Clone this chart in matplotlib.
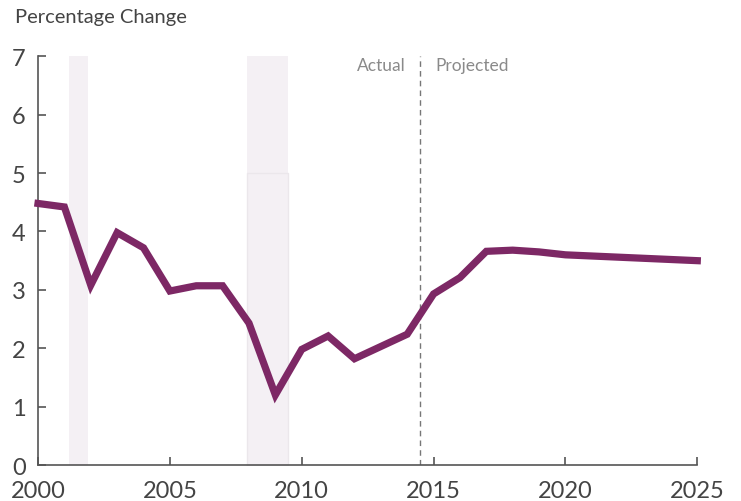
import numpy as np
import matplotlib
matplotlib.use('Agg')
import matplotlib.pyplot as plt

# data
years = list(range(2000, 2026))
pct_change = [4.48, 4.42, 3.08, 3.98, 3.72, 2.98, 3.07, 3.07, 2.43, 1.20,
              1.98, 2.21, 1.82, 2.03, 2.24, 2.93, 3.21, 3.66, 3.68, 3.65,
              3.60, 3.58, 3.56, 3.54, 3.52, 3.50]
recessions = [(2001.17, 2001.88), (2007.92, 2009.47)]
split_year = 2014.5
yticks = [0, 1, 2, 3, 4, 5, 6, 7]
xticks = [2000, 2005, 2010, 2015, 2020, 2025]

plt.rcParams['font.family'] = ['Lato', 'DejaVu Sans']

fig = plt.figure(figsize=(7.41, 5.02), dpi=100)
ax = fig.add_axes([0.0513, 0.0717, 0.8897, 0.8141])

# recession shading
for start, end in recessions:
    ax.axvspan(start, end, color='#f4f0f4', lw=0, zorder=0)
ax.fill_between([recessions[1][0], recessions[1][1]], 0, 5,
                facecolor='#f4f0f4', edgecolor='#ebe7eb', lw=1, zorder=0.5)

ax.axvline(split_year, color='#777777', lw=1, ls=(0, (4, 3)), zorder=1)
ax.text(split_year - 0.55, 6.85, 'Actual', ha='right', va='center',
        fontsize=12.5, color='#8a8a8a')
ax.text(split_year + 0.55, 6.85, 'Projected', ha='left', va='center',
        fontsize=12.5, color='#8a8a8a')

ax.plot(years, pct_change, color='#7d2865', lw=5.2, solid_joinstyle='miter',
        zorder=3, clip_on=False)

ax.set_xlim(2000, 2025)
ax.set_ylim(0, 7)
ax.set_xticks(xticks)
ax.set_yticks(yticks)
for s in ['top', 'right']:
    ax.spines[s].set_visible(False)
for s in ['left', 'bottom']:
    ax.spines[s].set_color('#555555')
    ax.spines[s].set_linewidth(1.2)
ax.tick_params(axis='both', direction='in', length=6, width=1.2,
               color='#555555', labelcolor='#444444', labelsize=17)
ax.tick_params(axis='y', pad=9)
ax.tick_params(axis='x', pad=11)

fig.text(15 / 741, 1 - 18 / 502, 'Percentage Change', ha='left', va='center',
         fontsize=14.5, color='#444444')

plt.savefig('out.png', dpi=100)
